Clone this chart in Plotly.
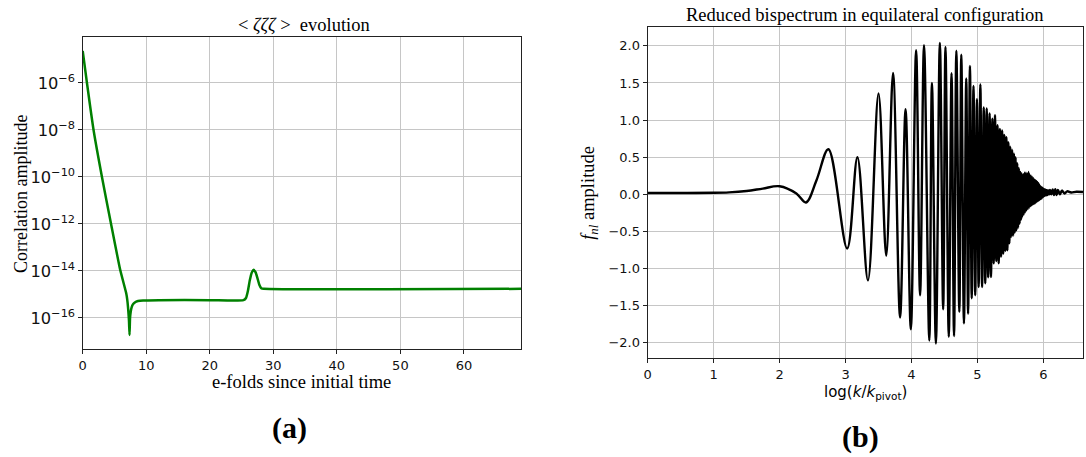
import plotly.graph_objects as go

# ---- panel (a): <zeta zeta zeta> evolution vs e-folds ----
efolds = [0.0, 0.68, 1.72, 3.03, 4.44, 5.9, 6.84, 7.0, 7.15, 7.28, 7.37,
          7.45, 7.55, 7.7, 7.9, 8.2, 8.7, 9.5, 12.0, 20.0, 25.3, 25.7,
          26.0, 26.3, 26.6, 26.9, 27.2, 27.5, 27.8, 28.1, 28.5, 69.0]
zzz_amp = [2.34e-05, 9.5e-07, 9.5e-09, 1.0e-10, 1.07e-12, 1.12e-14,
           1.15e-15, 6.3e-16, 2.5e-16, 7.9e-17, 1.9e-17, 1.0e-16,
           1.8e-16, 2.8e-16, 3.8e-16, 4.6e-16, 5.25e-16, 5.6e-16,
           5.75e-16, 5.75e-16, 5.75e-16, 7.1e-16, 1.41e-15, 4.0e-15,
           8.5e-15, 1.12e-14, 8.9e-15, 5.0e-15, 2.6e-15, 1.86e-15,
           1.74e-15, 1.74e-15]

# ---- panel (b): reduced bispectrum f_nl vs log(k/k_pivot) ----
log_k = [
    0.00, 0.50, 1.00, 1.235, 1.50, 1.745, 2.00, 2.255, 2.40, 2.56,
    2.74, 3.025, 3.18, 3.34, 3.50, 3.617, 3.72, 3.827, 3.91, 3.99,
    4.07, 4.13, 4.19, 4.27, 4.31, 4.37, 4.43, 4.48, 4.515, 4.565,
    4.607, 4.645, 4.68, 4.725, 4.755, 4.795, 4.83, 4.858, 4.886, 4.913,
    4.940, 4.966, 4.992, 5.018, 5.044, 5.070, 5.095, 5.118, 5.140, 5.162,
    5.184, 5.205, 5.226, 5.246, 5.266, 5.285, 5.304, 5.322, 5.340, 5.357,
    5.374, 5.390, 5.406, 5.422, 5.438, 5.453, 5.468, 5.483, 5.497, 5.511,
    5.525, 5.539, 5.552, 5.565, 5.578, 5.591, 5.603, 5.615, 5.627, 5.639,
    5.650, 5.661, 5.672, 5.683, 5.694, 5.705, 5.715, 5.725, 5.735, 5.745,
    5.755, 5.765, 5.775, 5.784, 5.793, 5.802, 5.811, 5.820, 5.829, 5.838,
    5.846, 5.854, 5.862, 5.870, 5.878, 5.886, 5.894, 5.902, 5.910, 5.918,
    5.925, 5.932, 5.939, 5.946, 5.953, 5.960, 5.967, 5.974, 5.981, 5.988,
    5.995, 6.002, 6.009, 6.016, 6.023, 6.030, 6.037, 6.044, 6.051, 6.058,
    6.065, 6.072, 6.080, 6.090, 6.100, 6.120, 6.140, 6.160, 6.180, 6.200,
    6.220, 6.250, 6.280, 6.320, 6.360, 6.420, 6.500, 6.600,
]
f_nl = [
    0.018, 0.018, 0.020, 0.026, 0.045, 0.077, 0.108, 0.010, -0.110, 0.19,
    0.607, -0.73, 0.50, -1.16, 1.357, -0.83, 1.635, -1.66, 1.145, -1.82,
    1.94, -1.36, 2.01, -1.97, 1.50, -2.01, 2.04, -1.55, 1.985, -1.92,
    1.63, -1.91, 1.935, -1.585, 1.88, -1.74, 1.56, -1.61, 1.73, -1.40,
    1.46, -1.36, 1.28, -1.25, 1.48, -1.25, 1.17, -1.20, 1.155, -1.12,
    1.09, -1.115, 1.02, -0.93, 1.065, -0.90, 0.93, -0.93, 0.88, -0.84,
    0.86, -0.80, 0.80, -0.76, 0.77, -0.755, 0.70, -0.66, 0.64, -0.575,
    0.60, -0.56, 0.55, -0.52, 0.50, -0.485, 0.42, -0.45, 0.35, -0.395,
    0.30, -0.34, 0.28, -0.30, 0.27, -0.27, 0.29, -0.24, 0.29, -0.215,
    0.28, -0.20, 0.30, -0.18, 0.26, -0.16, 0.25, -0.15, 0.235, -0.14,
    0.22, -0.13, 0.20, -0.125, 0.19, -0.11, 0.18, -0.10, 0.165, -0.09,
    0.15, -0.08, 0.13, -0.07, 0.11, -0.06, 0.10, -0.058, 0.09, -0.04,
    0.077, -0.03, 0.07, -0.02, 0.065, -0.015, 0.06, -0.013, 0.055, -0.01,
    0.05, -0.005, 0.05, 0.0, 0.06, 0.0, 0.065, -0.01, 0.07, -0.01,
    0.06, 0.0, 0.05, 0.01, 0.04, 0.025, 0.035, 0.03,
]

W, H = 1086, 457
SERIF = "Liberation Serif"
SANS = "DejaVu Sans"
GRID = "#c6c6c6"
SPINE = "#222222"


def px(x):
    return x / W


def py(y):
    return 1 - y / H


fig = go.Figure()
fig.add_trace(go.Scatter(x=efolds, y=zzz_amp, mode="lines",
                         line=dict(color="#008000", width=2.5, shape="spline", smoothing=0.5),
                         xaxis="x", yaxis="y", showlegend=False))
fig.add_trace(go.Scatter(x=log_k, y=f_nl, mode="lines",
                         line=dict(color="black", width=2.4, shape="spline", smoothing=1.0),
                         xaxis="x2", yaxis="y2", showlegend=False))

axis_common = dict(showgrid=True, gridcolor=GRID, gridwidth=1, zeroline=False,
                   showline=True, linecolor=SPINE, linewidth=1, mirror=True,
                   ticks="outside", ticklen=4, tickcolor=SPINE,
                   tickfont=dict(family=SANS, size=13, color="#111111"))

fig.update_layout(
    width=W, height=H, margin=dict(l=0, r=0, t=0, b=0),
    paper_bgcolor="white", plot_bgcolor="white",
    xaxis=dict(domain=[px(79), px(519)], range=[0, 69], dtick=10, tick0=0,
               anchor="y", **axis_common),
    yaxis=dict(domain=[py(349), py(36.7)], type="log", range=[-17.32, -4.03],
               dtick=2, exponentformat="power", anchor="x", **axis_common),
    xaxis2=dict(domain=[px(646), px(1083)], range=[0, 6.6], dtick=1, tick0=0,
                anchor="y2", **axis_common),
    yaxis2=dict(domain=[py(358.3), py(27.3)], range=[-2.21, 2.25], dtick=0.5,
                tick0=0, tickformat=".1f", anchor="x2", **axis_common),
)

labels = [
    (301, 25, "&lt; <i>ζζζ</i> &gt;  evolution", SERIF, 18.5, 0),
    (864, 15, "Reduced bispectrum in equilateral configuration", SERIF, 18.5, 0),
    (299, 382, "e-folds since initial time", SERIF, 18.5, 0),
    (865, 392, "log(<i>k</i>/<i>k</i><sub>pivot</sub>)", SANS, 15, 0),
    (17, 194, "Correlation amplitude", SERIF, 18, -90),
    (587, 193, "<i>f</i><sub><i>nl</i></sub> amplitude", SERIF, 18.5, -90),
    (287, 428, "<b>(a)</b>", SERIF, 30, 0),
    (860, 437, "<b>(b)</b>", SERIF, 30, 0),
]
for x, y, text, fam, size, ang in labels:
    fig.add_annotation(x=px(x), y=py(y), xref="paper", yref="paper", text=text,
                       showarrow=False, xanchor="center", yanchor="middle",
                       textangle=ang, font=dict(family=fam, size=size, color="black"))

fig.write_html("out.html")
